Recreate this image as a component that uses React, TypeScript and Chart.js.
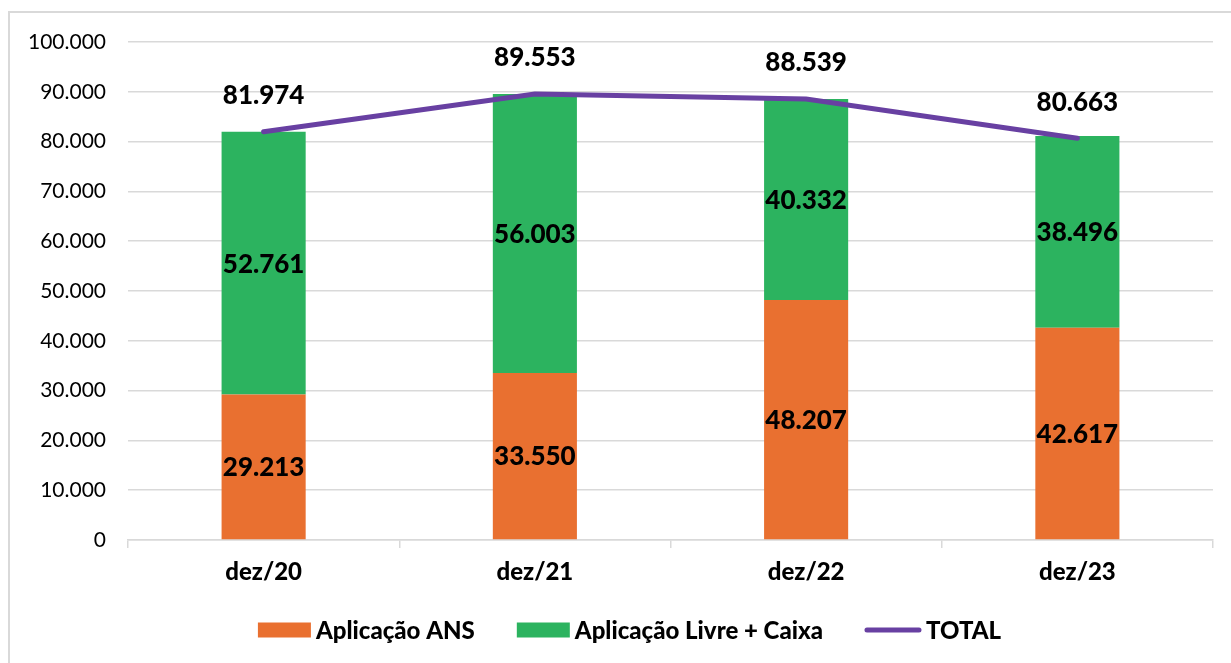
import React, { useEffect, useRef } from "react";
import { Chart, registerables } from "chart.js";

Chart.register(...registerables);

const categories = ["dez/20", "dez/21", "dez/22", "dez/23"];
const aplicacaoANS = [29213, 33550, 48207, 42617];
const aplicacaoLivreCaixa = [52761, 56003, 40332, 38496];
const total = [81974, 89553, 88539, 80663];
const seriesNames = ["Aplicação ANS", "Aplicação Livre + Caixa", "TOTAL"];

const ORANGE = "#E97030";
const GREEN = "#2CB35F";
const PURPLE = "#6840A2";
const FONT = "Lato, 'Noto Sans', sans-serif";

const fmt = (v: number) => {
  const s = Math.round(v).toString();
  return s.replace(/\B(?=(\d{3})+(?!\d))/g, ".");
};

const dataLabelPlugin = {
  id: "dataLabels",
  afterDatasetsDraw(chart: any) {
    const ctx = chart.ctx;
    ctx.save();
    ctx.fillStyle = "#000";
    ctx.font = `900 26px ${FONT}`;
    ctx.textAlign = "center";
    ctx.textBaseline = "middle";
    chart.data.datasets.forEach((ds: any, i: number) => {
      const meta = chart.getDatasetMeta(i);
      meta.data.forEach((el: any, j: number) => {
        const v = ds.data[j];
        if (ds.type === "line") {
          ctx.fillText(fmt(v), el.x, el.y - 36);
        } else {
          ctx.fillText(fmt(v), el.x, (el.y + el.base) / 2 + 1);
        }
      });
    });
    ctx.restore();
  },
};

const legendPlugin = {
  id: "customLegend",
  afterDraw(chart: any) {
    const ctx = chart.ctx;
    ctx.save();
    ctx.font = `900 24px ${FONT}`;
    ctx.textBaseline = "middle";
    const items = chart.data.datasets.map((ds: any) => {
      const isLine = ds.type === "line";
      const sw = isLine ? 56 : 53;
      const tw = ctx.measureText(ds.label).width;
      return { ds, isLine, sw, tw, w: sw + 5 + tw };
    });
    const gap = 42;
    const totalW = items.reduce((a: number, it: any) => a + it.w, 0) + gap * (items.length - 1);
    let x = chart.width / 2 + 14 - totalW / 2;
    const y = 630;
    items.forEach((it: any) => {
      if (it.isLine) {
        ctx.strokeStyle = it.ds.borderColor;
        ctx.lineWidth = 5;
        ctx.lineCap = "round";
        ctx.beginPath();
        ctx.moveTo(x + 2, y);
        ctx.lineTo(x + it.sw - 2, y);
        ctx.stroke();
      } else {
        ctx.fillStyle = it.ds.backgroundColor;
        ctx.fillRect(x, y - 7.5, it.sw, 15);
      }
      ctx.fillStyle = "#000";
      ctx.textAlign = "left";
      ctx.fillText(it.ds.label, x + it.sw + 5, y + 1);
      x += it.w + gap;
    });
    ctx.restore();
  },
};

export default function App() {
  const ref = useRef<HTMLCanvasElement | null>(null);
  useEffect(() => {
    document.body.style.margin = "0";
    const chart = new Chart(ref.current as HTMLCanvasElement, {
      type: "bar",
      data: {
        labels: categories,
        datasets: [
          {
            type: "bar",
            label: seriesNames[0],
            data: aplicacaoANS,
            backgroundColor: ORANGE,
            stack: "s",
            order: 1,
          },
          {
            type: "bar",
            label: seriesNames[1],
            data: aplicacaoLivreCaixa,
            backgroundColor: GREEN,
            stack: "s",
            order: 1,
          },
          {
            type: "line",
            label: seriesNames[2],
            data: total,
            borderColor: PURPLE,
            backgroundColor: PURPLE,
            borderWidth: 5,
            borderCapStyle: "round",
            pointRadius: 0,
            tension: 0,
            stack: "total",
            order: 0,
          } as any,
        ],
      },
      options: {
        animation: false,
        responsive: false,
        maintainAspectRatio: false,
        layout: { padding: { top: 42, right: 18, left: 0, bottom: 0 } },
        datasets: { bar: { barPercentage: 0.31, categoryPercentage: 1 } },
        plugins: { legend: { display: false }, tooltip: { enabled: false } },
        scales: {
          x: {
            stacked: true,
            grid: {
              drawOnChartArea: false,
              drawTicks: true,
              tickLength: 8,
              tickColor: "#D9D9D9",
              lineWidth: 1.5,
              offset: true,
            },
            border: { color: "#D9D9D9", width: 1.5 },
            ticks: {
              color: "#000",
              font: { family: FONT, size: 24, weight: "900" },
              padding: 10,
            },
            afterFit: (s: any) => {
              s.height = 123;
            },
          },
          y: {
            stacked: true,
            min: 0,
            max: 100000,
            ticks: {
              stepSize: 10000,
              color: "#000",
              font: { family: FONT, size: 21 },
              padding: 22,
              callback: (v: any) => fmt(Number(v)),
            },
            grid: { color: "#D9D9D9", lineWidth: 1.5, drawTicks: false },
            border: { display: false },
            afterFit: (s: any) => {
              s.width = 128;
            },
          },
        },
      },
      plugins: [dataLabelPlugin, legendPlugin],
    } as any);
    return () => chart.destroy();
  }, []);
  return (
    <div style={{ position: "relative", width: 1231, height: 663, overflow: "hidden", background: "#fff" }}>
      <div
        style={{
          position: "absolute",
          left: 8,
          top: 11,
          width: 1400,
          height: 800,
          borderLeft: "2px solid #D9D9D9",
          borderTop: "2px solid #D9D9D9",
        }}
      />
      <canvas ref={ref} width={1231} height={663} style={{ position: "absolute", left: 0, top: 0 }} />
    </div>
  );
}
